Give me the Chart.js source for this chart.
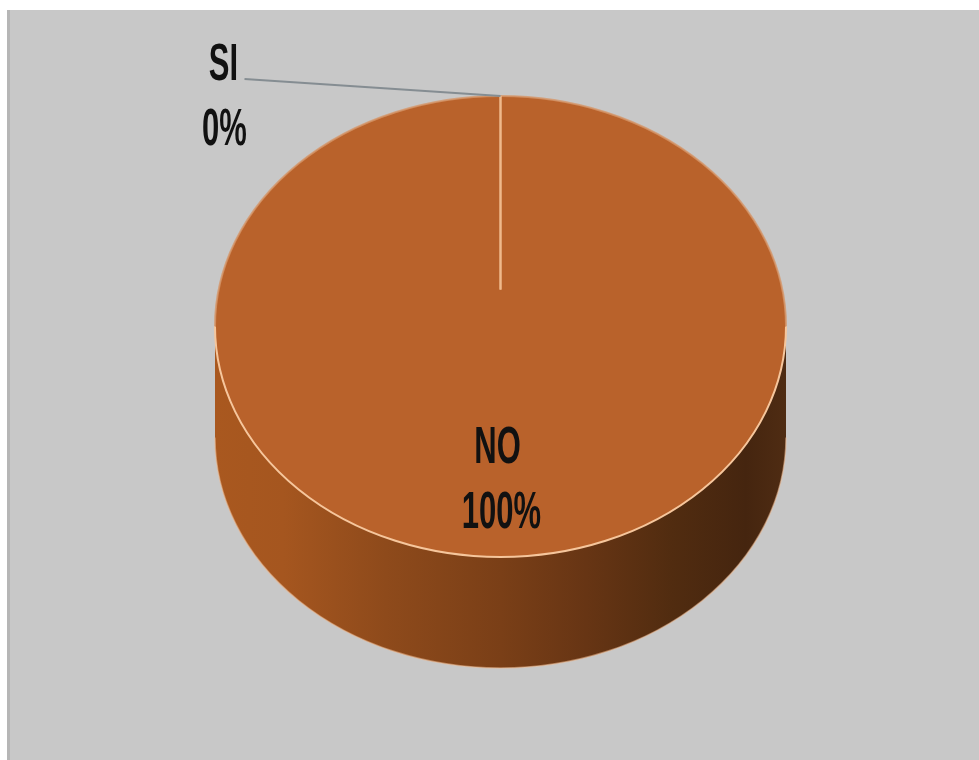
<!DOCTYPE html>
<html>
<head>
<meta charset="utf-8">
<script src="https://cdn.jsdelivr.net/npm/chart.js@4/dist/chart.umd.min.js"></script>
<style>
  html, body { margin: 0; padding: 0; background: #ffffff; width: 979px; height: 760px; overflow: hidden; }
  #panel { position: absolute; left: 7px; top: 10px; width: 969px; height: 750px;
           background: #c8c8c8; border-left: 3px solid #b6b6b6; }
  #chart { position: absolute; left: 0; top: 0; }
</style>
</head>
<body>
<div id="panel"></div>
<canvas id="chart" width="979" height="760"></canvas>
<script>
// Answers per category
const categories = ['SI', 'NO'];
const values = [0, 100];
const sliceColors = ['#4f81bd', '#b9622b'];

// Look of the tilted disc
const TILT = 230.5 / 285.5;      // vertical squash of the top face
const DEPTH = 111;               // thickness of the disc in pixels
const HUB_LIFT = 0.16;           // perspective: hub sits a little behind the ellipse centre
const SIDE_STOPS = [
  [0.00, '#a9581f'], [0.12, '#a5561f'], [0.30, '#8e4a1b'], [0.50, '#7a3f17'],
  [0.65, '#673514'], [0.80, '#512c10'], [0.93, '#45250f'], [1.00, '#4f2c13']
];
const LABEL_FONT = 'bold 31px "Liberation Sans", Arial, sans-serif';
const TEXT_STRETCH = 1.7;

const total = values.reduce((a, b) => a + b, 0);
const pct = v => Math.round(v / total * 100) + '%';

function stretchedText(ctx, txt, x, y) {
  ctx.save();
  ctx.translate(x, y);
  ctx.scale(1, TEXT_STRETCH);
  ctx.fillText(txt, 0, 0);
  ctx.restore();
}

const disc3d = {
  id: 'disc3d',
  beforeDatasetsDraw(chart) {
    const ctx = chart.ctx;
    const arcs = chart.getDatasetMeta(0).data;
    const cx = arcs[0].x, cy = arcs[0].y, rx = arcs[0].outerRadius, ry = rx * TILT;

    // front wall of every slice that faces the viewer
    arcs.forEach(arc => {
      const s = Math.max(arc.startAngle, 0), e = Math.min(arc.endAngle, Math.PI);
      if (e <= s) return;
      const g = ctx.createLinearGradient(cx - rx, 0, cx + rx, 0);
      SIDE_STOPS.forEach(([o, c]) => g.addColorStop(o, c));
      ctx.save();
      ctx.beginPath();
      ctx.ellipse(cx, cy, rx, ry, 0, s, e, false);
      ctx.ellipse(cx, cy + DEPTH, rx, ry, 0, e, s, true);
      ctx.closePath();
      ctx.fillStyle = g;
      ctx.fill();
      // light fringe along the lower edge
      ctx.beginPath();
      ctx.ellipse(cx, cy + DEPTH, rx, ry, 0, s, e, false);
      ctx.strokeStyle = 'rgba(236,186,146,0.55)';
      ctx.lineWidth = 1.5;
      ctx.stroke();
      ctx.restore();
    });

    // squash the round pie into the tilted top face
    ctx.save();
    ctx.translate(cx, cy);
    ctx.scale(1, TILT);
    ctx.translate(-cx, -cy);
  },
  afterDatasetsDraw(chart) {
    const ctx = chart.ctx;
    ctx.restore();
    const arcs = chart.getDatasetMeta(0).data;
    const cx = arcs[0].x, cy = arcs[0].y, rx = arcs[0].outerRadius, ry = rx * TILT;

    // rim highlight of the top face
    ctx.save();
    ctx.lineWidth = 2;
    ctx.strokeStyle = 'rgba(214,150,105,0.8)';
    ctx.beginPath(); ctx.ellipse(cx, cy, rx, ry, 0, Math.PI, 2 * Math.PI); ctx.stroke();
    ctx.strokeStyle = '#f6c69c';
    ctx.beginPath(); ctx.ellipse(cx, cy, rx, ry, 0, 0, Math.PI); ctx.stroke();

    // slice separators on the top face
    const hubX = cx, hubY = cy - ry * HUB_LIFT;
    ctx.strokeStyle = '#efb98c';
    ctx.lineWidth = 2;
    arcs.forEach(arc => {
      const a = arc.startAngle;
      ctx.beginPath();
      ctx.moveTo(cx + Math.cos(a) * rx, cy + Math.sin(a) * ry);
      ctx.lineTo(hubX, hubY);
      ctx.stroke();
    });

    // data labels
    ctx.font = LABEL_FONT;
    ctx.fillStyle = '#111111';
    ctx.textAlign = 'center';
    ctx.textBaseline = 'alphabetic';
    arcs.forEach((arc, i) => {
      const share = values[i] / total;
      if (share === 0) {
        // empty slice: callout placed outside, joined by a leader line
        const ex = cx + Math.cos(arc.startAngle) * rx, ey = cy + Math.sin(arc.startAngle) * ry;
        const lx = ex - 256, ly = ey - 17;
        ctx.strokeStyle = '#858d92';
        ctx.lineWidth = 2;
        ctx.beginPath(); ctx.moveTo(lx, ly); ctx.lineTo(ex, ey); ctx.stroke();
        stretchedText(ctx, categories[i], lx - 21, ly + 1);
        stretchedText(ctx, pct(values[i]), lx - 20, ly + 66);
      } else {
        const mid = (arc.startAngle + arc.endAngle) / 2;
        const px = cx + Math.cos(mid) * rx * 0.65, py = cy + Math.sin(mid) * ry * 0.65;
        stretchedText(ctx, categories[i], px - 3, py - 13);
        stretchedText(ctx, pct(values[i]), px + 1, py + 52);
      }
    });
    ctx.restore();
  }
};

new Chart(document.getElementById('chart'), {
  type: 'pie',
  data: {
    labels: categories,
    datasets: [{ data: values, backgroundColor: sliceColors, borderWidth: 0 }]
  },
  options: {
    responsive: false,
    animation: false,
    events: [],
    devicePixelRatio: 1,
    radius: 285.5,
    layout: { padding: { left: 215, right: 193, top: 40, bottom: 147 } },
    plugins: { legend: { display: false }, tooltip: { enabled: false } }
  },
  plugins: [disc3d]
});
</script>
</body>
</html>
